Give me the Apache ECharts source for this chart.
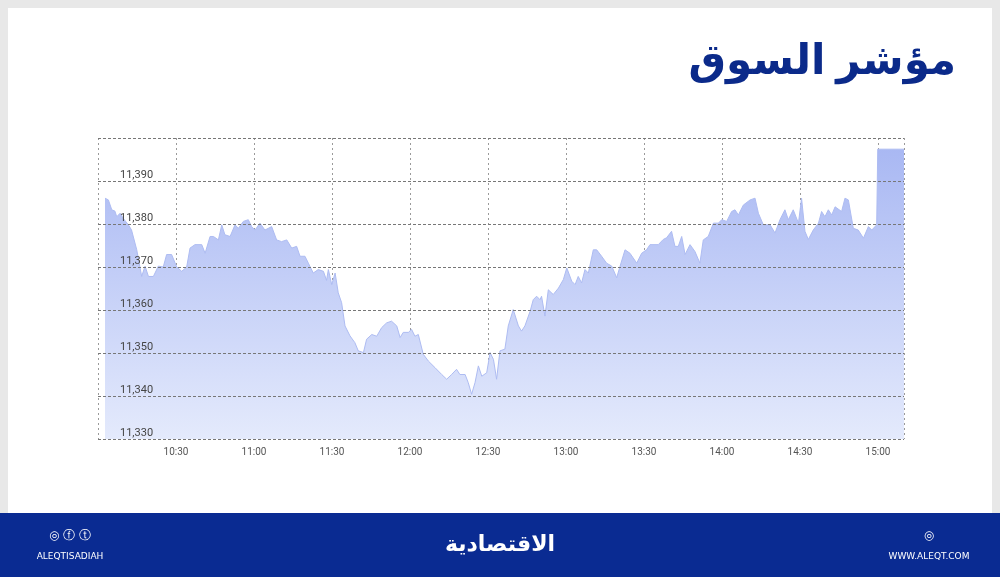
<!DOCTYPE html>
<html><head><meta charset="utf-8">
<script src="https://cdn.jsdelivr.net/npm/echarts@6/dist/echarts.min.js"></script>
<style>html,body{margin:0;padding:0;background:#e8e8e8}#c{width:1000px;height:577px}</style>
</head><body><div id="c"></div>
<script>
// minutes after 10:00
const times = [2.7,4.0,5.3,6.5,7.2,8.5,9.7,11.7,12.9,14.9,16.8,18.1,19.4,21.3,23.2,25.1,26.4,28.3,30.3,32.2,34.1,35.4,37.3,39.9,41.2,43.1,44.4,46.3,47.6,48.8,50.8,52.7,54.0,55.9,57.8,59.1,60.4,62.3,64.2,65.5,66.8,68.7,70.6,72.6,74.5,76.4,77.7,79.6,80.9,82.8,84.7,86.7,87.9,88.6,89.9,91.2,92.4,93.7,95.0,96.9,98.8,100.1,102.1,103.3,105.3,107.2,109.1,111.0,112.9,114.9,116.2,117.4,119.4,120.6,121.9,123.2,125.1,127.1,129.6,132.2,134.1,136.0,137.9,139.2,141.2,142.4,143.7,145.0,146.3,147.6,149.5,150.8,152.1,153.3,154.6,156.5,157.8,159.7,
161.7,162.9,164.2,166.2,167.4,168.7,170.0,170.6,171.9,173.2,175.1,177.1,179.0,180.3,182.2,183.5,184.7,186.0,187.3,188.6,190.5,191.8,193.7,195.6,197.6,199.5,200.8,202.7,204.6,207.2,209.1,211.0,212.3,215.5,217.4,218.7,220.6,221.9,223.2,224.5,225.8,227.7,229.6,231.5,232.8,234.7,236.7,238.6,239.9,241.8,243.7,245.0,246.3,248.2,250.8,252.7,254.0,255.9,258.5,260.4,262.3,264.2,265.5,267.4,269.4,270.6,271.9,273.2,275.1,277.1,278.3,279.6,280.9,282.2,283.5,286.0,287.3,288.6,290.5,292.4,294.4,296.3,297.6,299.5,299.9,310];
const values = [11386,11385.6,11383.3,11383,11381.7,11382.5,11381.3,11379.8,11378.6,11374,11367.8,11370.2,11367.8,11367.8,11370.2,11370,11372.9,11372.9,11370,11369,11370,11374.4,11375.2,11375.2,11373.2,11377.1,11377.1,11376.3,11379.8,11377.5,11377.1,11379.8,11379,11380.6,11381,11379.4,11378.6,11380.2,11378.6,11379,11379.4,11376.3,11375.9,11376.3,11374.4,11374.8,11372.5,11372.5,11370.9,11368.6,11369.4,11369,11366.9,11369.4,11365.9,11368.6,11364,11361.7,11356.3,11354,11352.4,11350.5,11350.1,11353.2,11354.3,11353.9,11355.9,11357,11357.4,11356.3,11353.6,11354.8,11354.8,11355.5,11353.9,11354.3,11349.7,11348.1,11346.6,11345,11343.9,11345,11346.2,11345,11345,11343.1,11340.4,11343.1,11347,11344.6,11345.4,11350.1,11348.5,11343.9,11350.5,11350.9,11356.3,11360.1,
11356.3,11355.1,11356.3,11359.7,11362.4,11363.2,11362.4,11363.2,11358.6,11364.7,11363.6,11365.1,11367.1,11369.8,11366.7,11365.9,11367.8,11366.3,11369.4,11368.6,11374,11374,11372.5,11370.9,11370.2,11367.5,11370.2,11374,11373.2,11370.9,11373.2,11374,11375.2,11375.2,11376.4,11376.8,11378.3,11374.8,11374.8,11377.1,11372.9,11375.2,11373.6,11370.9,11376.3,11377.1,11380.2,11380.2,11381,11380.6,11382.9,11383.3,11382.1,11384.4,11385.6,11386,11382.5,11379.8,11379.8,11377.9,11381,11383.3,11381,11383.3,11380.2,11386,11378.3,11376.4,11378.6,11380.2,11382.9,11381.7,11383.3,11382.1,11384,11382.9,11386,11385.6,11379,11378.6,11376.7,11379.4,11378.6,11379.8,11397.4,11397.4];
const yTicks = [11330,11340,11350,11360,11370,11380,11390];
const xTicks = [30,60,90,120,150,180,210,240,270,300];
const data = times.map((t,i)=>[t,values[i]]);
const chart = echarts.init(document.getElementById('c'));
const txt = (x,y,s,font,align)=>({type:'text',x:x,y:y,z:100,style:{text:s,fill:'#fff',align:align||'center',verticalAlign:'middle',font:font}});
chart.setOption({
  backgroundColor:'#e8e8e8',
  animation:false,
  graphic:[
    {type:'rect',shape:{x:8,y:8,width:984,height:505},style:{fill:'#ffffff'},z:-10},
    {type:'rect',shape:{x:0,y:513,width:1000,height:64},style:{fill:'#0a2b92'},z:-10},
    {type:'text',x:956,y:62,style:{text:'مؤشر السوق',fill:'#0b2a8a',align:'right',verticalAlign:'middle',font:'bold 42px "Noto Sans", "DejaVu Sans", sans-serif'}},
    txt(500,545,'الاقتصادية','bold 22px "Noto Sans", "DejaVu Sans", sans-serif'),
    txt(70,557,'ALEQTISADIAH','9px "DejaVu Sans", sans-serif'),
    txt(70,536,'◎ ⓕ ⓣ','12px "DejaVu Sans", sans-serif'),
    txt(929,557,'WWW.ALEQT.COM','9px "DejaVu Sans", sans-serif'),
    txt(929,536,'◎','12px "DejaVu Sans", sans-serif')
  ],
  grid:{left:98,right:96,top:138,bottom:138},
  xAxis:{type:'value',min:0,max:310,interval:30,
    axisLine:{show:false},axisTick:{show:false},
    axisLabel:{color:'#555',fontSize:10,fontFamily:'Roboto',margin:8,showMaxLabel:false,
      formatter:v=>{if(!xTicks.includes(v))return '';const m=600+v;return Math.floor(m/60)+':'+String(m%60).padStart(2,'0');}},
    splitLine:{show:true,lineStyle:{color:'#9a9a9a',type:[2,3],width:1}}},
  yAxis:{type:'value',min:11330,max:11400,interval:10,z:10,
    axisLine:{show:false},axisTick:{show:false},
    axisLabel:{inside:true,verticalAlign:'bottom',margin:22,color:'#444',fontSize:11,fontFamily:'Roboto',
      formatter:v=>yTicks.includes(v)?v.toLocaleString('en-US'):''},
    splitLine:{show:true,lineStyle:{color:'#777',type:[3,2],width:1}}},
  series:[{type:'line',data:data,symbol:'none',smooth:false,z:1,
    lineStyle:{color:'#aebcf2',width:1},
    areaStyle:{opacity:1,color:new echarts.graphic.LinearGradient(0,0,0,1,[{offset:0,color:'#a9b8f3'},{offset:1,color:'#e4eafc'}])}}]
});
</script></body></html>
